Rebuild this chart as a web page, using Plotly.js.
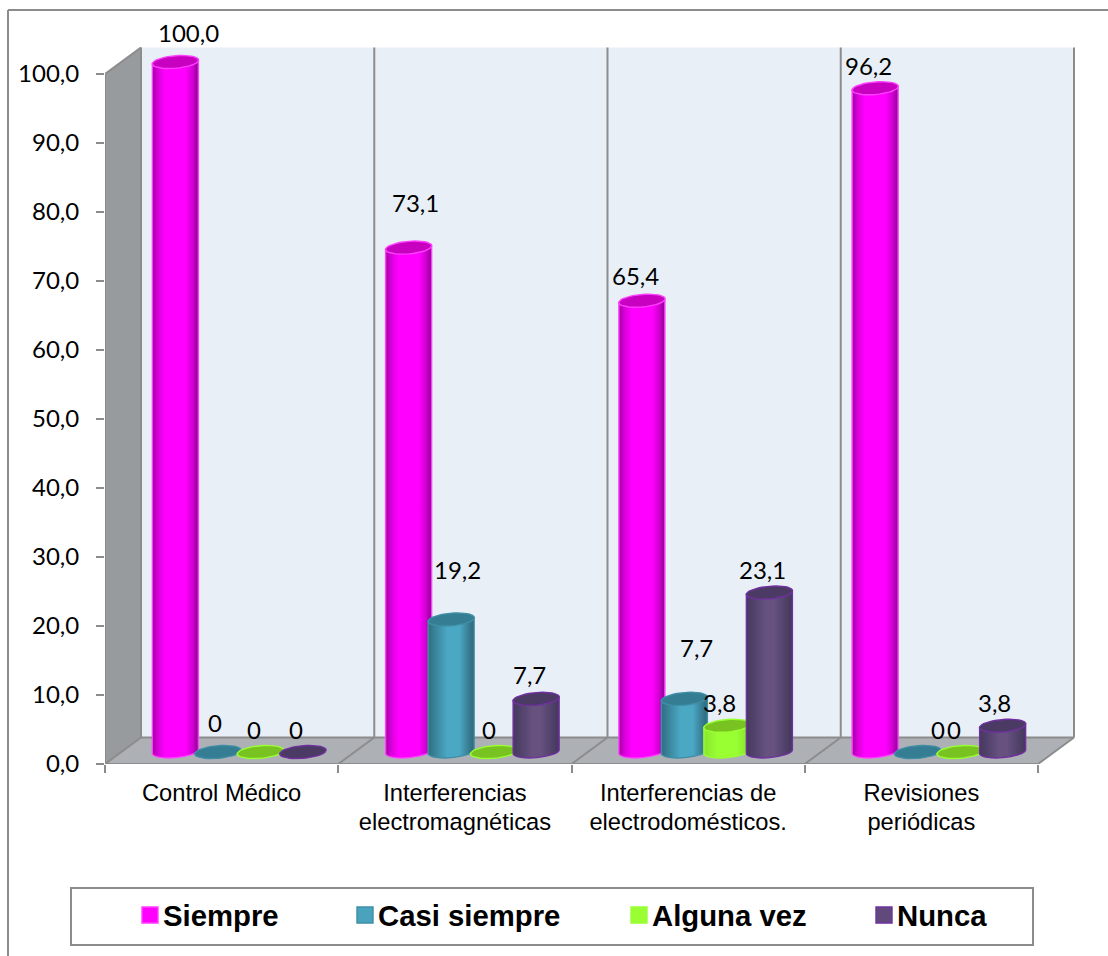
<!DOCTYPE html>
<html>
<head>
<meta charset="utf-8">
<script src="https://cdn.plot.ly/plotly-3.0.1.min.js"></script>
<style>html,body{margin:0;padding:0;background:#fff}</style>
</head>
<body>
<div id="chart" style="width:1108px;height:956px"></div>
<script>
// Survey results per category, in percent
const categories = ['Control Médico', 'Interferencias<br>electromagnéticas', 'Interferencias de<br>electrodomésticos.', 'Revisiones<br>periódicas'];
const siempre = [100.0, 73.1, 65.4, 96.2];
const casiSiempre = [0, 19.2, 7.7, 0];
const algunaVez = [0, 0, 3.8, 0];
const nunca = [0, 7.7, 23.1, 3.8];

// Hand-placed label offsets in pixels (rise above the cap, sideways shift)
const labelRise = [[30, 45, 25, 23], [30, 50, 51, 23], [23, 23, 23, 23], [23, 24, 23, 23]];
const labelShift = [[13, 7, -6, -7], [-3, 6, 12, 20], [-6, -5, -7, -6], [-7, -7, -7, -8]];

const seriesStyle = [
  {name: 'Siempre', values: siempre, color: '#ff00ff', cap: '#c800c0', line: '#ff40ff',
   stops: [[0, '#a000a0'], [.12, '#d800d8'], [.28, '#ff00ff'], [.72, '#ff00ff'], [.88, '#d000d0'], [1, '#8c0090']]},
  {name: 'Casi siempre', values: casiSiempre, color: '#4aa3bd', cap: '#357d93', line: '#3f8ea6',
   stops: [[0, '#2f6d80'], [.2, '#3d8aa2'], [.42, '#4ba8c5'], [.68, '#4ba8c5'], [.86, '#3a8199'], [1, '#2e6878']]},
  {name: 'Alguna vez', values: algunaVez, color: '#99ff33', cap: '#78c322', line: '#99ff33',
   stops: [[0, '#8ae62e'], [.3, '#99ff33'], [.7, '#99ff33'], [1, '#86dd2c']]},
  {name: 'Nunca', values: nunca, color: '#604a7b', cap: '#4b3a63', line: '#7030a0',
   stops: [[0, '#46395c'], [.22, '#554570'], [.42, '#66517f'], [.6, '#66517f'], [.8, '#54446e'], [1, '#43375a']]}
];

// Plot frame in pixels
const W = 1108, H = 956, M = {l: 105, r: 33, t: 47, b: 192};
const pxPerX = 233.25, pxPerY = 6.9;
const xMax = (W - M.l - M.r) / pxPerX;
const yMax = (H - M.t - M.b) / pxPerY;

// Pseudo-3D box: depth of the floor and the position of the cylinders on it
const depthX = 36 / pxPerX, depthY = 26.5 / pxPerY;
const rowX = 17.5 / pxPerX, rowY = 12 / pxPerY;
const barWidth = 46 / pxPerX, barStep = 42.5 / pxPerX;
const capA = 23.2, capB = 6.3, capTilt = -5 * Math.PI / 180;

const barCenter = (cat, s) => cat + 0.5 + rowX + (s - 1.5) * barStep;
const paperX = px => (px - M.l) / (W - M.l - M.r);
const paperY = py => 1 - (py - M.t) / (H - M.t - M.b);
const fmt = v => v === 0 ? '0' : v.toFixed(1).replace('.', ',');

function capOutline(xc, yc) {
  const xs = [], ys = [];
  for (let k = 0; k <= 40; k++) {
    const t = k / 40 * 2 * Math.PI;
    const ex = capA * Math.cos(t), ey = capB * Math.sin(t);
    xs.push(xc + (ex * Math.cos(capTilt) - ey * Math.sin(capTilt)) / pxPerX);
    ys.push(yc - (ex * Math.sin(capTilt) + ey * Math.cos(capTilt)) / pxPerY);
  }
  return [xs, ys];
}

const traces = [];
const annotations = [];
seriesStyle.forEach((s, j) => {
  const xs = s.values.map((_, c) => barCenter(c, j));
  traces.push({
    type: 'bar', name: s.name, x: xs, y: s.values, base: s.values.map(() => rowY),
    width: barWidth, zorder: 2 * j, hoverinfo: 'skip',
    marker: {color: s.color, line: {color: s.line, width: 1.4}}
  });
  const capX = [], capY = [];
  s.values.forEach((v, c) => {
    const [ex, ey] = capOutline(xs[c], rowY + v);
    capX.push(...ex, null);
    capY.push(...ey, null);
    annotations.push({
      x: xs[c], y: rowY + v, xref: 'x', yref: 'y', text: fmt(v), showarrow: false,
      xanchor: 'center', yanchor: 'middle', xshift: labelShift[j][c], yshift: labelRise[j][c],
      font: {family: 'Lato', size: 24, color: '#000'}
    });
  });
  traces.push({
    type: 'scatter', mode: 'lines', x: capX, y: capY, fill: 'toself', fillcolor: s.cap,
    line: {color: s.line, width: 1.4}, showlegend: false, hoverinfo: 'skip', zorder: 2 * j + 1
  });
});

// Walls, floor and frame lines
const edge = {color: '#8c8c8c', width: 2};
const poly = pts => 'M' + pts.map(p => p.join(' ')).join('L') + 'Z';
const shapes = [
  {type: 'path', layer: 'below', xref: 'x', yref: 'y', fillcolor: '#e8eff7', line: {width: 0},
   path: poly([[depthX, depthY], [depthX, 100 + depthY], [4 + depthX, 100 + depthY], [4 + depthX, depthY]])},
  {type: 'path', layer: 'below', xref: 'x', yref: 'y', fillcolor: '#989b9e', line: {width: 0},
   path: poly([[0, 0], [0, 100], [depthX, 100 + depthY], [depthX, depthY]])},
  {type: 'path', layer: 'below', xref: 'x', yref: 'y', fillcolor: '#adb1b5', line: {width: 0},
   path: poly([[0, 0], [depthX, depthY], [4 + depthX, depthY], [4, 0]])}
];
const segment = (x0, y0, x1, y1) => ({type: 'line', layer: 'below', xref: 'x', yref: 'y', x0, y0, x1, y1, line: edge});
shapes.push(segment(0, 0, 0, 100), segment(0, 100, depthX, 100 + depthY), segment(depthX, depthY, depthX, 100 + depthY));
shapes.push(segment(0, 0, 4, 0), segment(depthX, depthY, 4 + depthX, depthY));
[0, 1, 2, 3, 4].forEach(i => shapes.push(segment(i, 0, i + depthX, depthY)));
[1, 2, 3, 4].forEach(i => shapes.push(segment(i + depthX, depthY, i + depthX, 100 + depthY)));
const outer = (x0, y0, x1, y1) => ({type: 'line', xref: 'paper', yref: 'paper',
  x0: paperX(x0), y0: paperY(y0), x1: paperX(x1), y1: paperY(y1), line: edge});
shapes.push(outer(8, 10, W, 10), outer(8, 10, 8, H));
shapes.push({type: 'rect', xref: 'paper', yref: 'paper', x0: paperX(71), x1: paperX(1033),
  y0: paperY(945), y1: paperY(888), line: edge, fillcolor: '#fff'});

const layout = {
  width: W, height: H, autosize: false, margin: M, barmode: 'overlay', separators: ',.',
  paper_bgcolor: '#fff', plot_bgcolor: 'rgba(0,0,0,0)', showlegend: true, hovermode: false,
  xaxis: {
    range: [0, xMax], tickmode: 'array', tickvals: categories.map((_, i) => i + 0.5), ticktext: categories,
    ticks: '', showgrid: false, zeroline: false, showline: false, ticklabelstandoff: 12,
    tickfont: {family: 'Liberation Sans', size: 23.7, color: '#000'},
    minor: {tickmode: 'array', tickvals: [0, 1, 2, 3, 4], ticks: 'outside', ticklen: 8, tickwidth: 2, tickcolor: '#8c8c8c', showgrid: false}
  },
  yaxis: {
    range: [0, yMax], tickmode: 'linear', tick0: 0, dtick: 10, tickformat: '.1f', ticks: 'outside',
    ticklen: 8, tickwidth: 2, tickcolor: '#8c8c8c', showgrid: false, zeroline: false, showline: false,
    tickfont: {family: 'Lato', size: 24, color: '#000'}, ticklabelstandoff: 12
  },
  legend: {
    orientation: 'h', xref: 'container', yref: 'container', x: 128 / W, y: 1 - 889.5 / H,
    xanchor: 'left', yanchor: 'top', entrywidth: 190, entrywidthmode: 'pixels', traceorder: 'normal',
    bgcolor: 'rgba(0,0,0,0)', borderwidth: 0,
    font: {family: 'Liberation Sans', size: 29.3, weight: 'bold', color: '#000'}
  },
  shapes, annotations
};

// Cylinder shading, rounded bases, and legend spacing
function finish(gd) {
  const NS = 'http://www.w3.org/2000/svg';
  const defs = gd.querySelector('svg.main-svg defs');
  gd.querySelectorAll('.trace.bars').forEach(group => {
    const t = group.__data__[0].trace;
    const style = seriesStyle.find(s => s.name === t.name);
    const id = 'shade-' + seriesStyle.indexOf(style);
    const grad = document.createElementNS(NS, 'linearGradient');
    grad.setAttribute('id', id);
    style.stops.forEach(([o, c]) => {
      const st = document.createElementNS(NS, 'stop');
      st.setAttribute('offset', o);
      st.setAttribute('stop-color', c);
      grad.appendChild(st);
    });
    defs.appendChild(grad);
    group.querySelectorAll('.point path').forEach(p => {
      const n = (p.getAttribute('d') || '').match(/-?[\d.]+/g);
      if (!n || n.length < 5) return;
      const [x0, y0, y1, x1] = n.map(Number);
      const rise = (x1 - x0) / 2 * Math.tan(-capTilt);
      p.setAttribute('d', `M${x0},${y0 + rise}L${x0},${y1 + rise}L${x1},${y1 - rise}L${x1},${y0 - rise}` +
        `A${capA} ${capB} ${capTilt * 180 / Math.PI} 0 1 ${x0},${y0 + rise}Z`);
      p.style.fill = `url(#${id})`;
    });
  });

  // Legend entries sit at uneven offsets because the text widths differ
  const legend = gd.querySelector('.legend');
  const swatchLeft = [142, 357, 631, 876];
  const box = gd.getBoundingClientRect();
  legend.querySelectorAll('.traces').forEach((g, i) => {
    const m = g.getAttribute('transform').match(/translate\(([-\d.]+)[ ,]+([-\d.]+)/);
    const bar = g.querySelector('.legendpoints path');
    bar.setAttribute('d', 'M8,8H-8V-8H8Z');
    const diff = swatchLeft[i] - (bar.getBoundingClientRect().left - box.left);
    g.setAttribute('transform', `translate(${Number(m[1]) + diff},${m[2]})`);
    const txt = g.querySelector('.legendtext');
    const gap = bar.getBoundingClientRect().right + 5 - txt.getBoundingClientRect().left;
    const nx = Number(txt.getAttribute('x')) + gap;
    txt.setAttribute('x', nx);
    txt.querySelectorAll('tspan').forEach(ts => { if (ts.getAttribute('x')) ts.setAttribute('x', nx); });
  });
  const scroll = legend.querySelector('.scrollbox');
  if (scroll) scroll.removeAttribute('clip-path');

  // Wider line spacing for the two-line category names
  gd.querySelectorAll('.xtick text').forEach(t => {
    t.querySelectorAll('tspan.line').forEach((ts, i) => ts.setAttribute('dy', (i * 29) + 'px'));
  });
}

const gd = document.getElementById('chart');
Plotly.newPlot(gd, traces, layout, {displayModeBar: false, staticPlot: true}).then(() => finish(gd));
</script>
</body>
</html>
